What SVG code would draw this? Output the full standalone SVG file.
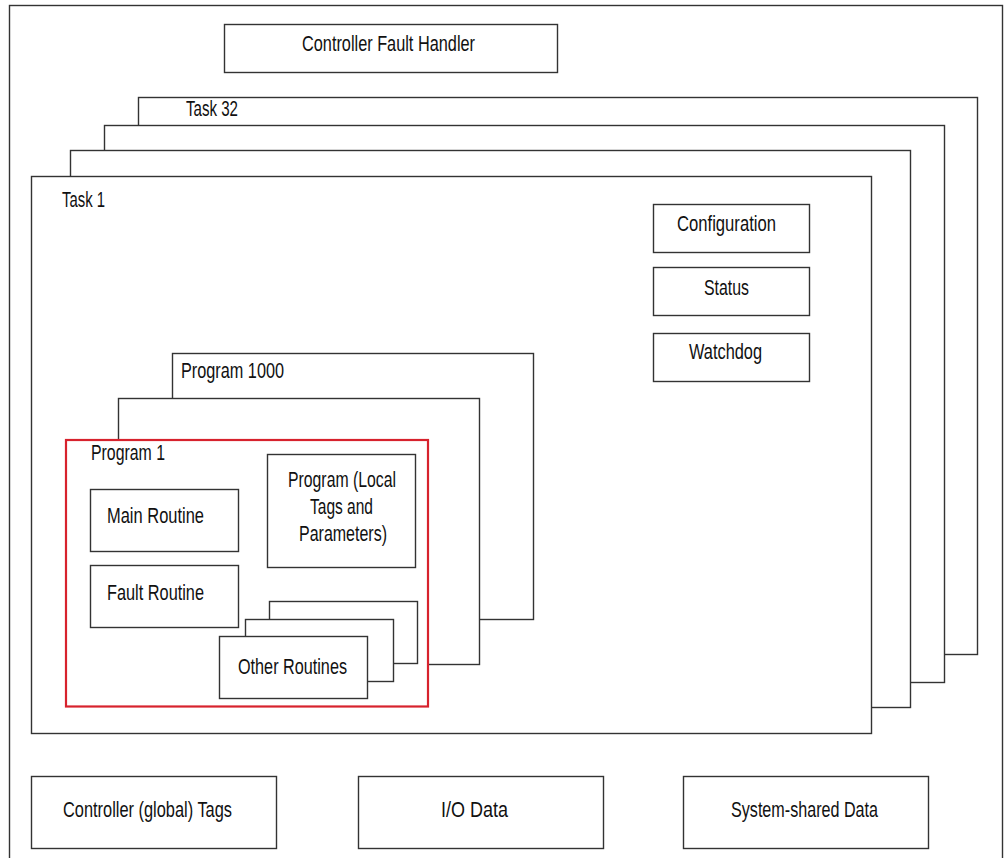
<svg xmlns="http://www.w3.org/2000/svg" width="1006" height="858" viewBox="0 0 1006 858">
<style>
.b{fill:#fff;stroke:#333;stroke-width:1.4}
.r{fill:#fff;stroke:#d7222d;stroke-width:2.2}
text{font-family:"Liberation Sans",Arial,sans-serif;font-size:21.5px;fill:#111;}
</style>
<rect width="1006" height="858" fill="#fff"/>
<g id="frame"><rect class="b" x="9.5" y="5.5" width="993" height="870"/></g>
<g id="fault-handler"><rect class="b" x="224.5" y="24.5" width="333" height="48"/><text x="302" y="51" textLength="173" lengthAdjust="spacingAndGlyphs">Controller Fault Handler</text></g>
<g id="task32"><rect class="b" x="138.5" y="97.5" width="839" height="557"/><text x="186" y="116" textLength="52" lengthAdjust="spacingAndGlyphs">Task 32</text></g>
<g id="task-b"><rect class="b" x="104.5" y="125.5" width="840" height="557"/></g>
<g id="task-c"><rect class="b" x="70.5" y="150.5" width="840" height="557"/></g>
<g id="task1"><rect class="b" x="31.5" y="176.5" width="840" height="557"/><text x="62" y="207" textLength="43" lengthAdjust="spacingAndGlyphs">Task 1</text></g>
<g id="configuration"><rect class="b" x="653.5" y="204.5" width="156" height="48"/><text x="677" y="231" textLength="99" lengthAdjust="spacingAndGlyphs">Configuration</text></g>
<g id="status"><rect class="b" x="653.5" y="267.5" width="156" height="48"/><text x="704" y="295" textLength="45" lengthAdjust="spacingAndGlyphs">Status</text></g>
<g id="watchdog"><rect class="b" x="653.5" y="333.5" width="156" height="48"/><text x="689" y="359" textLength="73" lengthAdjust="spacingAndGlyphs">Watchdog</text></g>
<g id="program1000"><rect class="b" x="172.5" y="353.5" width="361" height="266"/><text x="181" y="378" textLength="103" lengthAdjust="spacingAndGlyphs">Program 1000</text></g>
<g id="program-b"><rect class="b" x="118.5" y="398.5" width="361" height="266"/></g>
<g id="program1"><rect class="r" x="66" y="440" width="362" height="266.5"/><text x="91" y="460" textLength="74" lengthAdjust="spacingAndGlyphs">Program 1</text></g>
<g id="main-routine"><rect class="b" x="90.5" y="489.5" width="148" height="62"/><text x="107" y="523" textLength="97" lengthAdjust="spacingAndGlyphs">Main Routine</text></g>
<g id="fault-routine"><rect class="b" x="90.5" y="565.5" width="148" height="62"/><text x="107" y="600" textLength="97" lengthAdjust="spacingAndGlyphs">Fault Routine</text></g>
<g id="program-local"><rect class="b" x="267.5" y="454.5" width="148" height="113"/>
<text x="288" y="487" textLength="108" lengthAdjust="spacingAndGlyphs">Program (Local</text>
<text x="310" y="514" textLength="63" lengthAdjust="spacingAndGlyphs">Tags and</text>
<text x="299" y="541" textLength="88" lengthAdjust="spacingAndGlyphs">Parameters)</text></g>
<g id="other-routines-c"><rect class="b" x="269.5" y="601.5" width="148" height="62"/></g>
<g id="other-routines-b"><rect class="b" x="245.5" y="619.5" width="148" height="62"/></g>
<g id="other-routines"><rect class="b" x="219.5" y="636.5" width="148" height="62"/><text x="238" y="674" textLength="109" lengthAdjust="spacingAndGlyphs">Other Routines</text></g>
<g id="global-tags"><rect class="b" x="31.5" y="776.5" width="245" height="72"/><text x="63" y="817" textLength="169" lengthAdjust="spacingAndGlyphs">Controller (global) Tags</text></g>
<g id="io-data"><rect class="b" x="358.5" y="776.5" width="245" height="72"/><text x="441" y="817" textLength="67" lengthAdjust="spacingAndGlyphs">I/O Data</text></g>
<g id="system-shared"><rect class="b" x="683.5" y="776.5" width="245" height="72"/><text x="731" y="817" textLength="147" lengthAdjust="spacingAndGlyphs">System-shared Data</text></g>
<g id="connectors"></g>
</svg>
